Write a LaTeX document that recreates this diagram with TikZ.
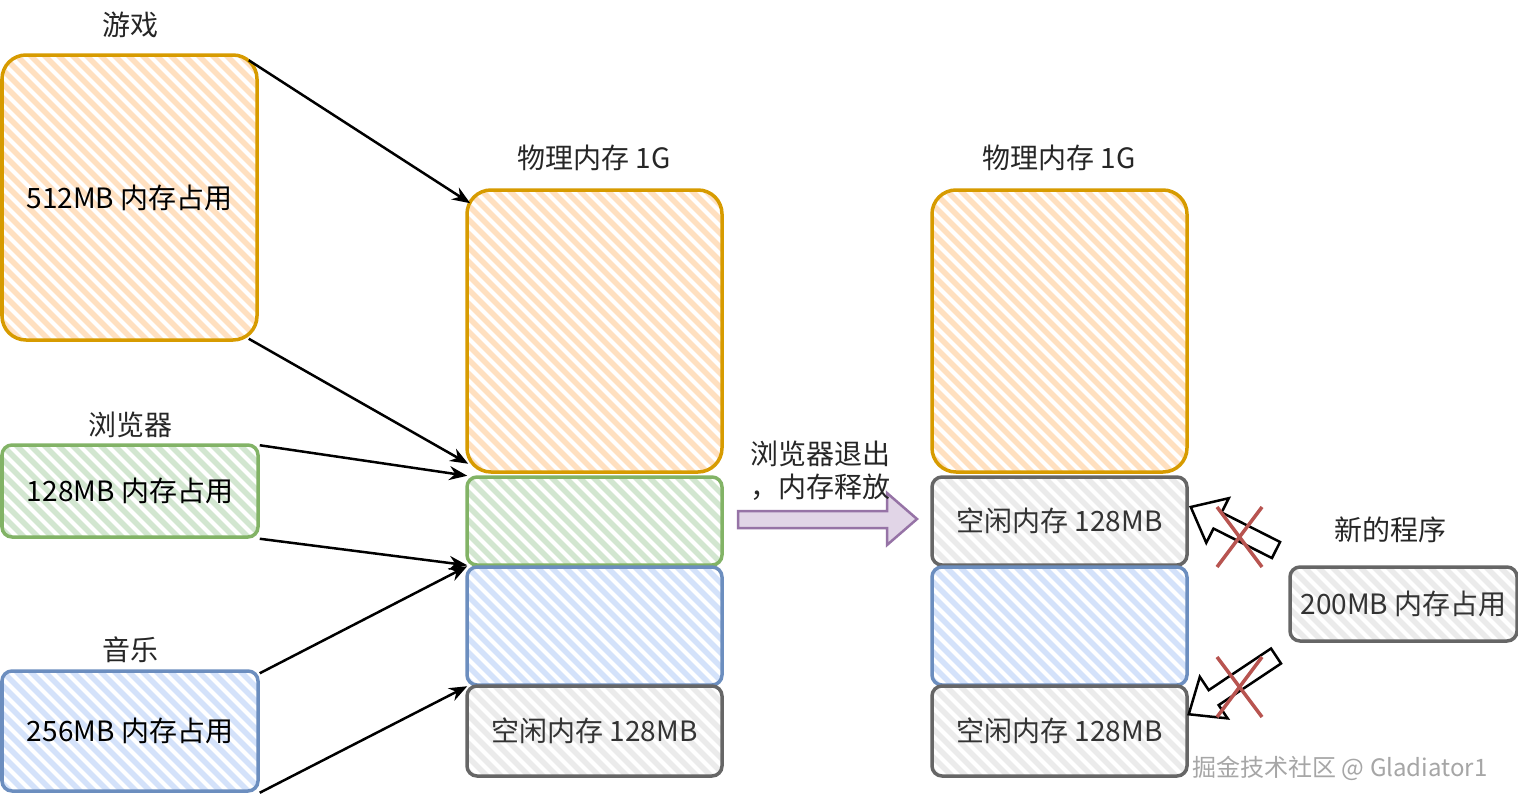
\documentclass[tikz,border=0pt]{standalone}
\usepackage{fontspec}
\setmainfont{Noto Sans CJK SC}
\usetikzlibrary{arrows.meta,calc}
\definecolor{orF}{HTML}{FFE0C0}
\definecolor{orS}{HTML}{D79B00}
\definecolor{grF}{HTML}{D2E6D0}
\definecolor{grS}{HTML}{82B366}
\definecolor{blF}{HTML}{D4E2FA}
\definecolor{blS}{HTML}{6C8EBF}
\definecolor{gyF}{HTML}{EBEBEB}
\definecolor{gyS}{HTML}{666666}
\definecolor{puF}{HTML}{E1D5E7}
\definecolor{puS}{HTML}{9673A6}
\definecolor{rdS}{HTML}{B85450}
\newcommand\lblfont{\fontsize{28}{33}\selectfont}
\tikzset{
  hatch/.style={path picture={
    \foreach \k in {-336,-322,...,336}{
      \draw[#1,line width=5.5pt] ($(path picture bounding box.north west)+(\k pt,0pt)$) -- ++(340pt,-340pt);}}},
  membox/.style={draw, line width=3.5pt, rounded corners=10pt, inner sep=0pt, font=\lblfont, text=black, fill=white},
  orbox/.style={membox, draw=orS, hatch=orF},
  grbox/.style={membox, draw=grS, hatch=grF},
  blbox/.style={membox, draw=blS, hatch=blF},
  gybox/.style={membox, draw=gyS, hatch=gyF, text=black!80},
  title/.style={font=\lblfont, text=black!85, inner sep=0pt},
  conn/.style={draw=black, line width=2.5pt, -{Stealth[length=18pt,width=14pt]}},
  hollow/.style={draw=black, line width=2.5pt, fill=white, line join=miter},
  cross/.style={draw=rdS, line width=3.5pt},
}
\begin{document}
\begin{tikzpicture}[x=1pt,y=-1pt]
\useasboundingbox[fill=white] (0,0) rectangle (1518,806);

% left programs
\node[orbox, rounded corners=24pt, minimum width=255pt, minimum height=285pt] (game) at (129.5,197.5) {512MB 内存占用};
\node[grbox, minimum width=256pt, minimum height=92pt] (browser) at (130,491) {128MB 内存占用};
\node[blbox, minimum width=256pt, minimum height=120pt] (music) at (130,731) {256MB 内存占用};
\node[title] (tgame) at (130,25) {游戏};
\node[title] (tbrowser) at (130,425) {浏览器};
\node[title] (tmusic) at (130,650) {音乐};

% middle memory
\node[title] (tmid) at (594,158) {物理内存 1G};
\node[orbox, rounded corners=24pt, minimum width=255pt, minimum height=282pt] (m1) at (594.5,331) {};
\node[grbox, minimum width=255pt, minimum height=88pt] (m2) at (594.5,521) {};
\node[blbox, minimum width=255pt, minimum height=118pt] (m3) at (594.5,626) {};
\node[gybox, minimum width=255pt, minimum height=90pt] (m4) at (594.5,731) {空闲内存 128MB};

% right memory
\node[title] (tright) at (1059,158) {物理内存 1G};
\node[orbox, rounded corners=24pt, minimum width=255pt, minimum height=282pt] (r1) at (1059.5,331) {};
\node[gybox, minimum width=255pt, minimum height=88pt] (r2) at (1059.5,521) {空闲内存 128MB};
\node[blbox, minimum width=255pt, minimum height=118pt] (r3) at (1059.5,626) {};
\node[gybox, minimum width=255pt, minimum height=90pt] (r4) at (1059.5,731) {空闲内存 128MB};

% new program
\node[title] (tnew) at (1390,530) {新的程序};
\node[gybox, minimum width=227pt, minimum height=74pt] (newp) at (1403.5,604) {200MB 内存占用};

% connectors
\draw[conn] ($(game.north east)+(-10,7)$) -- ($(m1.north west)+(5,15)$);
\draw[conn] ($(game.south east)+(-10,-3)$) -- ($(m1.south west)+(3,-10)$);
\draw[conn] ($(browser.north east)+(0,2)$) -- ($(m1.south west)+(2,2)$);
\draw[conn] (browser.south east) -- ($(m3.north west)+(2,0)$);
\draw[conn] ($(music.north east)+(0,4)$) -- ($(m3.north west)+(2,1)$);
\draw[conn] (music.south east) -- ($(m4.north west)+(2,2)$);

% release arrow
\draw[draw=puS, fill=puF, line width=2.5pt] (738,511) -- (887,511) -- (887,493) -- (917,519) -- (887,545) -- (887,528) -- (738,528) -- cycle;
\node[title, align=left] (trel) at (820,471) {浏览器退出\\，内存释放};

% hollow arrows
\coordinate (uT) at (1276,550);
\coordinate (uP) at ($(r2.east)+(2,-14)$);
\coordinate (dT) at (1276,656);
\coordinate (dP) at ($(r4.north east)+(0,30)$);
\foreach \T/\P in {uT/uP, dT/dP}{
  \coordinate (H) at ($(\P)!30pt!(\T)$);
  \draw[hollow] ($(\T)!9pt!90:(\P)$) -- ($(H)!9pt!90:(\P)$) -- ($(H)!25pt!90:(\P)$) -- (\P)
     -- ($(H)!25pt!-90:(\P)$) -- ($(H)!9pt!-90:(\P)$) -- ($(\T)!9pt!-90:(\P)$) -- cycle;
}
% crosses
\draw[cross] (1217,507) -- (1262,567);
\draw[cross] (1262,507) -- (1217,567);
\draw[cross] (1217,657) -- (1262,717);
\draw[cross] (1262,657) -- (1217,717);

% watermark
\node[font=\fontsize{24}{28}\selectfont, text=black!35, inner sep=0pt] (wm) at (1340,768) {掘金技术社区 @ Gladiator1};
\end{tikzpicture}
\end{document}
